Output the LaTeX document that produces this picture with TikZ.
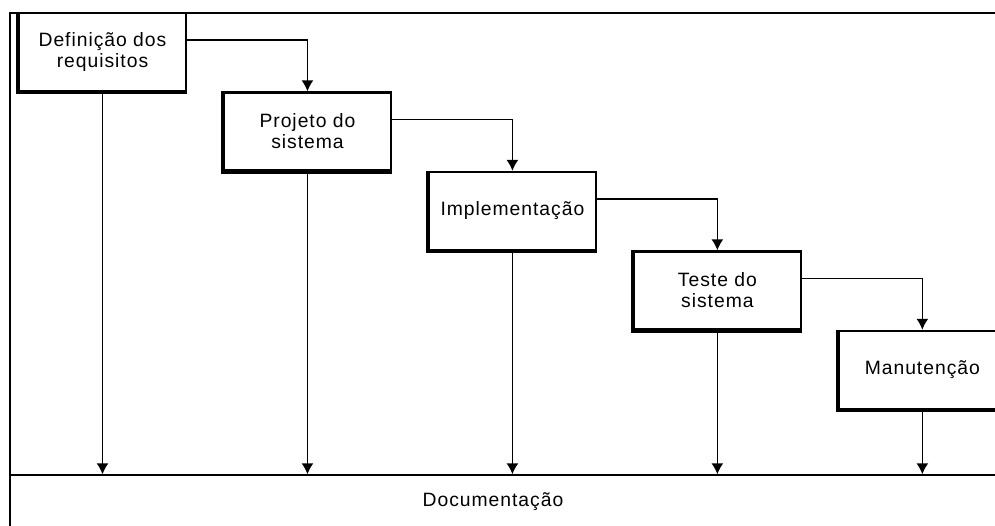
\documentclass[tikz,border=0pt]{standalone}
\usepackage{fontspec}
\setmainfont{Liberation Sans}[LetterSpace=5]
\usetikzlibrary{arrows.meta,positioning}

\begin{document}
\begin{tikzpicture}[x=0.02cm,y=-0.02cm,on grid,line width=0.8pt,
    >={Latex[length=2.2mm,width=2.4mm]}]
  \tikzstyle{phase}=[rectangle,draw,line width=1.3pt,minimum width=3.34cm,
                     minimum height=1.56cm,align=center,
                     font=\fontsize{11}{12}\selectfont]
  \tikzstyle{doclabel}=[rectangle,minimum height=1.08cm,
                        font=\fontsize{11}{12}\selectfont]

  \useasboundingbox (0,0) rectangle (995,525);
  \clip (0,0) rectangle (995,525);

  % outer frame and documentation strip
  \draw[line width=1.3pt] (1010,13) -- (10,13) -- (10,540);
  \draw[line width=1.3pt] (10,475) -- (1010,475);

  \node[phase] (def) at (102.5,52) {Definição dos\\requisitos};
  \node[phase] (proj) [below right=1.59cm and 4.1cm of def] {Projeto do\\sistema};
  \node[phase] (impl) [below right=1.59cm and 4.1cm of proj] {Implementação};
  \node[phase] (teste) [below right=1.59cm and 4.1cm of impl] {Teste do\\sistema};
  \node[phase] (manut) [below right=1.59cm and 4.1cm of teste] {Manutenção};
  \node[doclabel] (doc) at (493,502) {Documentação};

  % heavier left and bottom edges
  \foreach \n in {def,proj,impl,teste,manut}
    \draw[line width=2.2pt] (\n.north west) -- (\n.south west) -- (\n.south east);

  \draw[->] ([yshift=0.24cm]def.east) -| (proj.north);
  \draw[->] ([yshift=0.24cm]proj.east) -| (impl.north);
  \draw[->] ([yshift=0.24cm]impl.east) -| (teste.north);
  \draw[->] ([yshift=0.24cm]teste.east) -| (manut.north);

  \foreach \n in {def,proj,impl,teste,manut}
    \draw[->] (\n.south) -- (\n.south |- doc.north);
\end{tikzpicture}
\end{document}
